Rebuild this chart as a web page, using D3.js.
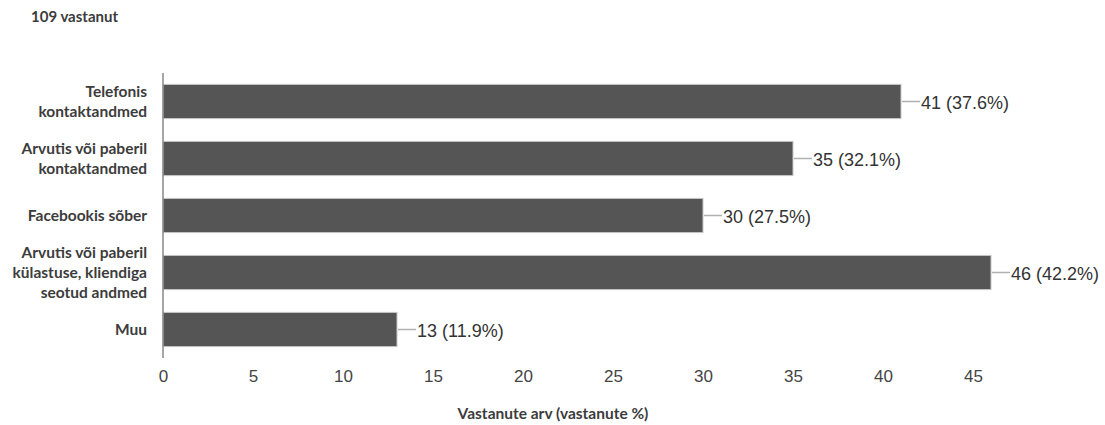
<!DOCTYPE html>
<html>
<head>
<meta charset="utf-8">
<script src="https://cdn.jsdelivr.net/npm/d3@7/dist/d3.min.js"></script>
<style>
  html, body { margin: 0; padding: 0; background: #fff; }
  svg { display: block; }
</style>
</head>
<body>
<svg id="chart" width="1105" height="425"></svg>
<script>
// Survey answers: how customer data is stored
const categories = [
  ["Telefonis", "kontaktandmed"],
  ["Arvutis või paberil", "kontaktandmed"],
  ["Facebookis sõber"],
  ["Arvutis või paberil", "külastuse, kliendiga", "seotud andmed"],
  ["Muu"]
];
const counts = [41, 35, 30, 46, 13];
const percents = ["37.6%", "32.1%", "27.5%", "42.2%", "11.9%"];
const tickValues = [0, 5, 10, 15, 20, 25, 30, 35, 40, 45];
const totalLabel = "109 vastanut";
const axisTitle = "Vastanute arv (vastanute %)";

const svg = d3.select("#chart");
const labelFont = "Lato, 'Open Sans', sans-serif";
const numFont = "Arial, 'Liberation Sans', sans-serif";

const x = d3.scaleLinear().domain([0, 45]).range([163, 973]);
const y = d3.scaleBand()
  .domain(d3.range(categories.length))
  .range([73, 358])
  .paddingInner(0.4)
  .paddingOuter(0.2);

// Header
svg.append("text")
  .attr("x", 31).attr("y", 22)
  .attr("font-family", labelFont)
  .attr("font-weight", "bold")
  .attr("font-size", 15)
  .attr("fill", "#3c3c3c")
  .text(totalLabel);

// Bars
svg.append("g").selectAll("rect")
  .data(counts)
  .join("rect")
  .attr("x", x(0))
  .attr("y", (d, i) => y(i))
  .attr("width", d => x(d) - x(0))
  .attr("height", y.bandwidth())
  .attr("fill", "#555555")
  .attr("stroke", "#c8c8c8")
  .attr("stroke-width", 1);

// Leader lines and value labels
const lab = svg.append("g");
counts.forEach((d, i) => {
  const cy = y(i) + y.bandwidth() / 2;
  lab.append("line")
    .attr("x1", x(d) + 1).attr("x2", x(d) + 19)
    .attr("y1", cy).attr("y2", cy)
    .attr("stroke", "#b0b0b0").attr("stroke-width", 1.5);
  lab.append("text")
    .attr("x", x(d) + 20).attr("y", cy + 1)
    .attr("dy", "0.36em")
    .attr("font-family", numFont)
    .attr("font-size", 18)
    .attr("fill", "#333")
    .text(`${d} (${percents[i]})`);
});

// Vertical baseline
svg.append("line")
  .attr("x1", x(0)).attr("x2", x(0))
  .attr("y1", 73).attr("y2", 358)
  .attr("stroke", "#888").attr("stroke-width", 1.5);

// Category labels
const cat = svg.append("g");
categories.forEach((lines, i) => {
  const cy = y(i) + y.bandwidth() / 2;
  const lh = 20;
  const t = cat.append("text")
    .attr("text-anchor", "end")
    .attr("font-family", labelFont)
    .attr("font-weight", "bold")
    .attr("font-size", 15.5)
    .attr("fill", "#3c3c3c");
  lines.forEach((s, k) => {
    t.append("tspan")
      .attr("x", 147)
      .attr("y", cy + (k - (lines.length - 1) / 2) * lh)
      .attr("dy", "0.36em")
      .text(s);
  });
});

// X axis tick labels
const xAxis = d3.axisBottom(x).tickValues(tickValues).tickSize(0).tickPadding(0);
const gx = svg.append("g").attr("transform", "translate(0,370)").call(xAxis);
gx.select(".domain").remove();
gx.selectAll("text")
  .attr("font-family", numFont)
  .attr("font-size", 17)
  .attr("fill", "#444");

// Axis title
svg.append("text")
  .attr("x", 553).attr("y", 419)
  .attr("text-anchor", "middle")
  .attr("font-family", labelFont)
  .attr("font-weight", "bold")
  .attr("font-size", 15.5)
  .attr("fill", "#3c3c3c")
  .text(axisTitle);
</script>
</body>
</html>
